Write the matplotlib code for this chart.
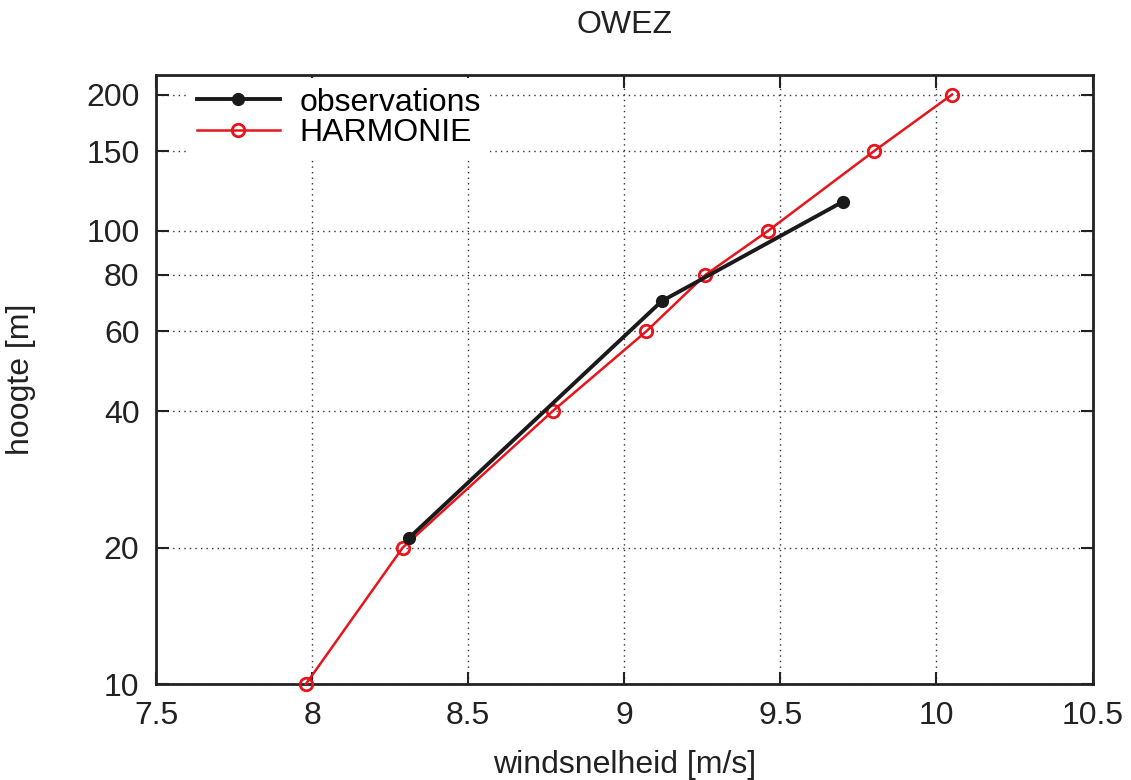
import matplotlib
matplotlib.use("Agg")
import matplotlib.pyplot as plt
from matplotlib.ticker import FixedLocator, NullLocator, FixedFormatter

plt.rcParams["font.family"] = ["Liberation Sans", "DejaVu Sans"]

# observations (met mast heights)
obs_speed = [8.31, 9.12, 9.70]
obs_height = [21, 70, 116]

# HARMONIE model levels
harm_speed = [7.98, 8.29, 8.77, 9.07, 9.26, 9.46, 9.80, 10.05]
harm_height = [10, 20, 40, 60, 80, 100, 150, 200]

yticks = [10, 20, 40, 60, 80, 100, 150, 200]
xticks = [7.5, 8, 8.5, 9, 9.5, 10, 10.5]
xticklabels = ["7.5", "8", "8.5", "9", "9.5", "10", "10.5"]

fig = plt.figure(figsize=(11.31, 7.8), dpi=100)
ax = fig.add_axes([0.138, 0.123, 0.828, 0.781])

ax.plot(obs_speed, obs_height, color="#1a1a1a", lw=2.8, marker="o",
        markersize=8.5, label="observations", zorder=4, clip_on=False)
ax.plot(harm_speed, harm_height, color="#e8141c", lw=1.8, marker="o",
        markersize=9, markerfacecolor="none", markeredgewidth=2.0,
        label="HARMONIE", zorder=3, clip_on=False)

ax.set_yscale("log")
ax.set_xlim(7.5, 10.5)
ax.set_ylim(10, 221)
ax.yaxis.set_major_locator(FixedLocator(yticks))
ax.yaxis.set_major_formatter(FixedFormatter([str(v) for v in yticks]))
ax.yaxis.set_minor_locator(NullLocator())
ax.set_xticks(xticks)
ax.set_xticklabels(xticklabels)

ax.grid(True, color="#333333", linestyle=(0, (1, 3)), linewidth=1.0)
ax.set_axisbelow(True)

ax.tick_params(direction="in", length=9, width=1.5, labelsize=23,
               top=True, right=True, pad=12, colors="#222222")
for s in ax.spines.values():
    s.set_linewidth(2)
    s.set_color("#222222")

ax.set_xlabel("windsnelheid [m/s]", fontsize=23, color="#222222", labelpad=14)
ax.set_ylabel("hoogte [m]", fontsize=23, color="#222222", labelpad=36)
ax.set_title("OWEZ", fontsize=23, color="#222222", pad=30)

leg = ax.legend(loc="upper left", fontsize=23, frameon=True, facecolor="white",
                edgecolor="none", framealpha=1, handlelength=2.6,
                handletextpad=0.6, borderaxespad=0.1, labelspacing=0.02,
                borderpad=0.3, bbox_to_anchor=(0.03, 1.0))
leg.set_zorder(5)

fig.savefig("out.png", dpi=100, facecolor="white")
